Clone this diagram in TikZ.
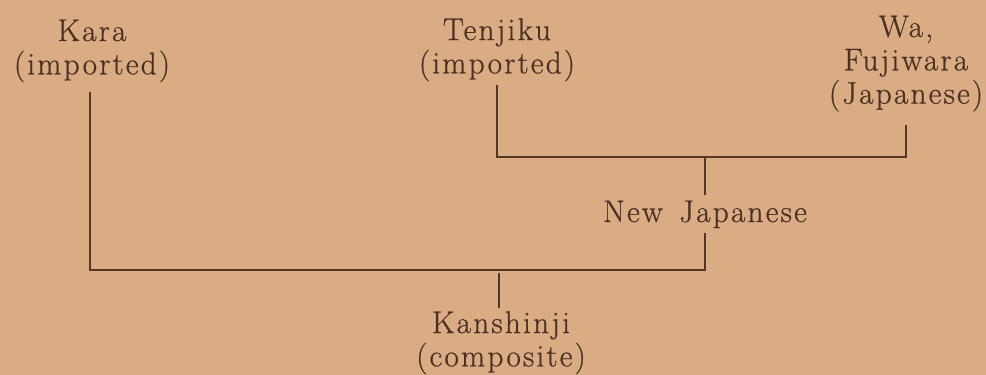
\documentclass[tikz,border=0pt]{standalone}
\usepackage{fontspec}
\setmainfont{Latin Modern Roman}[LetterSpace=7,FakeBold=0.6]
\definecolor{paper}{RGB}{217,172,132}
\definecolor{ink}{RGB}{74,48,34}
\definecolor{rule}{RGB}{84,54,38}
\begin{document}
\begin{tikzpicture}[x=0.75pt,y=-0.75pt,
  lbl/.style={inner sep=0pt, outer sep=0pt, align=center, text=ink, font=\fontsize{23.5}{25}\selectfont},
  conn/.style={draw=rule, line width=1.3pt}]
\fill[paper] (0,0) rectangle (986,375);
\useasboundingbox (0,0) rectangle (986,375);
\node[lbl,anchor=north] (kara) at (92,19.6) {Kara\\(imported)};
\node[lbl,anchor=north] (tenjiku) at (497,18.3) {Tenjiku\\(imported)};
\node[lbl,anchor=north] (wa) at (906,15.6) {Wa,\\Fujiwara\\(Japanese)};
\node[lbl,anchor=base] (newj) at (705,222) {New\hspace{0.15em} Japanese};
\node[lbl,anchor=north] (kan) at (501,311.3) {Kanshinji\\(composite)};
\coordinate (topbar) at (705,157);
\coordinate (botbar) at (499,270);
\draw[conn] ([yshift=-3pt]tenjiku.south) |- (topbar) -| ([yshift=-10pt]wa.south);
\draw[conn] (topbar) -- ([yshift=4.2pt]newj.north);
\draw[conn] ([yshift=-3.7pt]newj.south) |- (botbar) -| ([yshift=-7.5pt,xshift=-1.5pt]kara.south);
\draw[conn] ([yshift=-2.5pt]botbar) -- ([xshift=-1.5pt,yshift=2.5pt]kan.north);
\end{tikzpicture}
\end{document}
